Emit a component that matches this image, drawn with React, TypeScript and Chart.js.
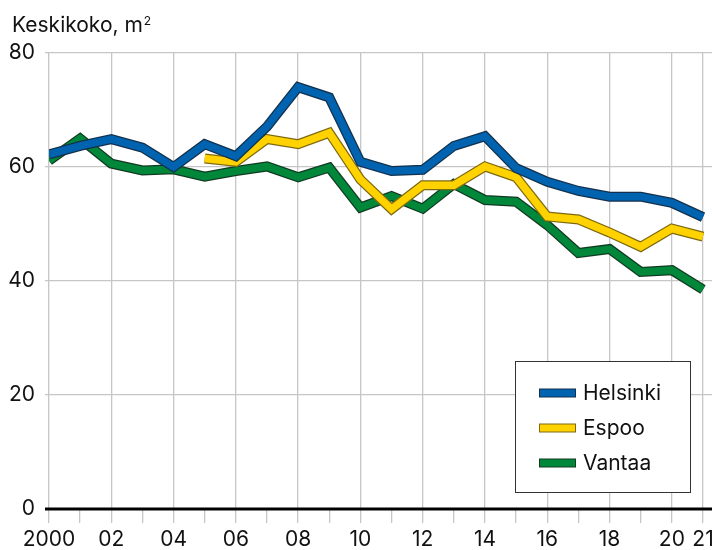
import React, { useEffect, useRef } from "react";
import { Chart, registerables } from "chart.js";

Chart.register(...registerables);

const years = [2000, 2001, 2002, 2003, 2004, 2005, 2006, 2007, 2008, 2009, 2010, 2011, 2012, 2013, 2014, 2015, 2016, 2017, 2018, 2019, 2020, 2021];
const helsinki = [62.2, 63.7, 64.9, 63.4, 60.0, 64.0, 61.9, 67.1, 74.0, 72.2, 60.9, 59.3, 59.5, 63.7, 65.4, 59.8, 57.4, 55.8, 54.8, 54.8, 53.7, 51.2];
const espoo = [null, null, null, null, null, 61.5, 60.9, 64.9, 64.0, 66.0, 57.8, 52.6, 56.8, 56.8, 60.1, 58.2, 51.3, 50.8, 48.5, 46.0, 49.2, 47.8];
const vantaa = [61.1, 65.0, 60.6, 59.4, 59.6, 58.3, 59.3, 60.1, 58.2, 59.9, 52.9, 54.9, 52.7, 57.0, 54.2, 53.9, 49.8, 44.9, 45.6, 41.6, 41.9, 38.5];
const seriesNames = ["Helsinki", "Espoo", "Vantaa"];
const seriesColors = ["#0063AF", "#FFD200", "#00873A"];
const outlineColors = ["#13314d", "#7d6a10", "#123a22"];
const yTicks = [0, 20, 40, 60, 80];
const titleMain = "Keskikoko, m";
const titleSup = "2";

const FONT = "Inter, 'Noto Sans', sans-serif";

const extrasPlugin = {
  id: "extras",
  afterDraw(chart: any) {
    const ctx = chart.ctx;
    const ys = chart.scales.y;
    const y0 = ys.getPixelForValue(0);
    ctx.save();
    // zero line
    ctx.strokeStyle = "#000";
    ctx.lineWidth = 3;
    ctx.beginPath();
    ctx.moveTo(45, y0);
    ctx.lineTo(712, y0);
    ctx.stroke();
    // title
    ctx.fillStyle = "#111";
    ctx.font = `21px ${FONT}`;
    ctx.textBaseline = "alphabetic";
    ctx.textAlign = "left";
    ctx.fillText(titleMain, 12, 32);
    const w = ctx.measureText(titleMain).width;
    ctx.font = `12px ${FONT}`;
    ctx.fillText(titleSup, 12 + w + 1, 25);
    // legend
    const bx = 515.5, by = 361.5, bw = 175, bh = 131;
    ctx.fillStyle = "#fff";
    ctx.fillRect(bx, by, bw, bh);
    ctx.strokeStyle = "#333";
    ctx.lineWidth = 1;
    ctx.strokeRect(bx, by, bw, bh);
    const rowY = [393, 428, 463];
    ctx.font = `21px ${FONT}`;
    ctx.textBaseline = "middle";
    seriesNames.forEach((name, i) => {
      ctx.fillStyle = outlineColors[i];
      ctx.fillRect(539, rowY[i] - 4.5, 37, 9);
      ctx.fillStyle = seriesColors[i];
      ctx.fillRect(540, rowY[i] - 3.5, 35, 7);
      ctx.fillStyle = "#111";
      ctx.fillText(name, 583, rowY[i] + 1);
    });
    ctx.restore();
  },
};

export default function App() {
  const ref = useRef<HTMLCanvasElement>(null);
  useEffect(() => {
    if (!ref.current) return;
    const toPts = (arr: (number | null)[]) => years.map((x, i) => ({ x, y: arr[i] }));
    const seriesData = [helsinki, espoo, vantaa];
    const datasets: any[] = [];
    seriesData.forEach((arr, i) => {
      datasets.push({
        label: seriesNames[i] + " outline",
        data: toPts(arr),
        borderColor: outlineColors[i],
        borderWidth: 10,
        order: 2 * i + 2,
      });
      datasets.push({
        label: seriesNames[i],
        data: toPts(arr),
        borderColor: seriesColors[i],
        borderWidth: 7.5,
        order: 2 * i + 1,
      });
    });
    const chart = new Chart(ref.current, {
      type: "line",
      data: { datasets },
      plugins: [extrasPlugin],
      options: {
        responsive: false,
        animation: false,
        devicePixelRatio: 1,
        layout: { padding: { left: 0, right: 0, top: 53, bottom: 0 } },
        elements: {
          point: { radius: 0, hoverRadius: 0 },
          line: { tension: 0, borderJoinStyle: "miter", borderCapStyle: "butt", fill: false },
        },
        spanGaps: false,
        plugins: { legend: { display: false }, tooltip: { enabled: false }, title: { display: false } },
        scales: {
          x: {
            type: "linear",
            min: 2000,
            max: 2000 + (712 - 49) / ((703 - 49) / 21),
            afterBuildTicks(scale: any) {
              scale.ticks = years.map((v) => ({ value: v }));
            },
            afterFit(scale: any) {
              scale.height = 41;
              scale.paddingLeft = 0;
              scale.paddingRight = 0;
            },
            border: { display: false },
            grid: {
              color: (c: any) => {
                const v = c.tick ? c.tick.value : 0;
                return v % 2 === 0 || v === 2021 ? "#c6c6c6" : "rgba(0,0,0,0)";
              },
              tickColor: "#c6c6c6",
              lineWidth: 1.3,
              tickLength: 14,
              drawTicks: true,
            },
            ticks: {
              autoSkip: false,
              maxRotation: 0,
              padding: 4,
              color: "#111",
              font: { family: FONT, size: 21 },
              callback: (v: any) => {
                const n = Number(v);
                if (n === 2000) return "2000";
                if (n === 2021) return "21";
                if (n % 2 === 0) return String(n - 2000).padStart(2, "0");
                return "";
              },
            },
          },
          y: {
            min: 0,
            max: 80,
            afterBuildTicks(scale: any) {
              scale.ticks = yTicks.map((v) => ({ value: v }));
            },
            afterFit(scale: any) {
              scale.width = 49;
            },
            border: { display: false },
            grid: {
              color: (c: any) => (c.tick && c.tick.value === 0 ? "rgba(0,0,0,0)" : "#c6c6c6"),
              lineWidth: 1.3,
              tickLength: 4,
            },
            ticks: {
              padding: 10,
              color: "#111",
              font: { family: FONT, size: 21 },
            },
          },
        },
      },
    } as any);
    return () => chart.destroy();
  }, []);
  return (
    <div style={{ position: "absolute", left: 0, top: 0, width: 712, height: 550, background: "#fff" }}>
      <canvas ref={ref} width={712} height={550} />
    </div>
  );
}
